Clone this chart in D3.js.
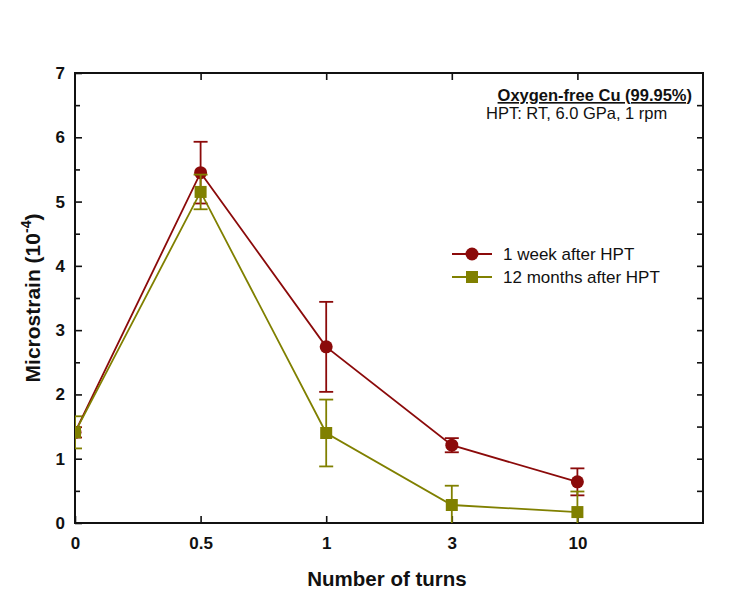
<!DOCTYPE html>
<html>
<head>
<meta charset="utf-8">
<script src="https://cdn.jsdelivr.net/npm/d3@7"></script>
<style>
  body { margin: 0; background: #fff; }
  svg { font-family: 'Liberation Sans', Arial, sans-serif; }
</style>
</head>
<body>
<div class="chart"></div>
<script>
'use strict';

// data
var turns = ['0', '0.5', '1', '3', '10'];
var weekValues = [1.41, 5.45, 2.74, 1.21, 0.64];
var weekErrors = [0.08, 0.48, 0.70, 0.11, 0.21];
var monthValues = [1.41, 5.15, 1.40, 0.28, 0.17];
var monthErrors = [0.25, 0.27, 0.52, 0.30, 0.32];
var yTicks = [0, 1, 2, 3, 4, 5, 6, 7];

var series = [
  {name: '1 week after HPT', values: weekValues, errors: weekErrors, color: '#8b0a0a', marker: 'circle'},
  {name: '12 months after HPT', values: monthValues, errors: monthErrors, color: '#808000', marker: 'square'}
];

var margin = {top: 73, right: 47, bottom: 69, left: 75},
  width = 750 - margin.left - margin.right,
  height = 592 - margin.top - margin.bottom;

var x = d3.scaleLinear().domain([0, 5]).range([0, width]);
var y = d3.scaleLinear().domain([0, 7]).range([height, 0]);

var svg = d3.select('.chart').append('svg')
  .attr('width', 750)
  .attr('height', 592);

var g = svg.append('g')
  .attr('transform', 'translate(' + margin.left + ',' + margin.top + ')');

g.append('clipPath').attr('id', 'plotClip')
  .append('rect').attr('width', width).attr('height', height);

// axes, ticks inward
var bottomAxis = d3.axisBottom(x)
  .tickValues(d3.range(turns.length))
  .tickFormat(function(i) { return turns[i]; })
  .tickSizeInner(-7).tickSizeOuter(0).tickPadding(14);

var leftAxis = d3.axisLeft(y)
  .tickValues(yTicks)
  .tickFormat(d3.format('d'))
  .tickSizeInner(-7).tickSizeOuter(0).tickPadding(10);

var leftMinor = d3.axisLeft(y)
  .tickValues(d3.range(0.5, 7, 1))
  .tickFormat('').tickSizeInner(-5).tickSizeOuter(0);

var rightAxis = d3.axisRight(y)
  .tickValues(d3.range(0.5, 7, 0.5))
  .tickFormat('').tickSizeInner(-6).tickSizeOuter(0);

var topAxis = d3.axisTop(x)
  .tickValues([1, 2, 3, 4])
  .tickFormat('').tickSizeInner(-7).tickSizeOuter(0);

g.append('g').attr('class', 'axis')
  .attr('transform', 'translate(0,' + height + ')')
  .call(bottomAxis);
g.append('g').attr('class', 'axis').call(leftAxis);
g.append('g').attr('class', 'axis').call(leftMinor);
g.append('g').attr('class', 'axis')
  .attr('transform', 'translate(' + width + ',0)')
  .call(rightAxis);
g.append('g').attr('class', 'axis').call(topAxis);

g.selectAll('.axis path').remove();
g.selectAll('.axis line').attr('stroke', '#111').attr('stroke-width', 1.6);
g.selectAll('.axis text')
  .attr('fill', '#111')
  .style('font-size', '17px')
  .style('font-weight', 'bold');

g.append('rect')
  .attr('width', width).attr('height', height)
  .attr('fill', 'none')
  .attr('stroke', '#111')
  .attr('stroke-width', 2);

// series
var plot = g.append('g').attr('clip-path', 'url(#plotClip)');

var line = d3.line()
  .x(function(d, i) { return x(i); })
  .y(function(d) { return y(d); });

function drawMarker(sel, s, cx, cy) {
  if (s.marker === 'circle') {
    sel.append('circle')
      .attr('cx', cx).attr('cy', cy).attr('r', 6.5)
      .attr('fill', s.color);
  } else {
    sel.append('rect')
      .attr('x', cx - 6).attr('y', cy - 6)
      .attr('width', 12).attr('height', 12)
      .attr('fill', s.color);
  }
}

series.forEach(function(s) {
  var sg = plot.append('g');
  sg.append('path')
    .datum(s.values)
    .attr('d', line)
    .attr('fill', 'none')
    .attr('stroke', s.color)
    .attr('stroke-width', 1.8);

  s.values.forEach(function(v, i) {
    var cx = x(i), e = s.errors[i];
    sg.append('line')
      .attr('x1', cx).attr('x2', cx)
      .attr('y1', y(v - e)).attr('y2', y(v + e))
      .attr('stroke', s.color).attr('stroke-width', 1.8);
    [v - e, v + e].forEach(function(ev) {
      sg.append('line')
        .attr('x1', cx - 7).attr('x2', cx + 7)
        .attr('y1', y(ev)).attr('y2', y(ev))
        .attr('stroke', s.color).attr('stroke-width', 1.8);
    });
    drawMarker(sg, s, cx, y(v));
  });
});

// legend
var legend = g.append('g')
  .attr('transform', 'translate(' + (452 - margin.left) + ',' + (254 - margin.top) + ')');

series.forEach(function(s, i) {
  var row = legend.append('g').attr('transform', 'translate(0,' + (i * 23) + ')');
  row.append('line')
    .attr('x1', 0).attr('x2', 40)
    .attr('stroke', s.color).attr('stroke-width', 1.8);
  drawMarker(row, s, 20, 0);
  row.append('text')
    .attr('x', 51).attr('y', 6)
    .attr('fill', '#111')
    .style('font-size', '17px')
    .text(s.name);
});

// annotation
svg.append('text')
  .attr('x', 692).attr('y', 101)
  .attr('text-anchor', 'end')
  .attr('fill', '#111')
  .style('font-size', '16.5px')
  .style('font-weight', 'bold')
  .style('text-decoration', 'underline')
  .text('Oxygen-free Cu (99.95%)');

svg.append('text')
  .attr('x', 486).attr('y', 119)
  .attr('fill', '#111')
  .style('font-size', '16.5px')
  .text('HPT: RT, 6.0 GPa, 1 rpm');

// axis titles
svg.append('text')
  .attr('x', 387)
  .attr('y', 586)
  .attr('text-anchor', 'middle')
  .attr('fill', '#111')
  .style('font-size', '20.5px')
  .style('font-weight', 'bold')
  .text('Number of turns');

var yTitle = svg.append('text')
  .attr('transform', 'translate(40,' + (margin.top + height / 2) + ') rotate(-90)')
  .attr('text-anchor', 'middle')
  .attr('fill', '#111')
  .style('font-size', '21px')
  .style('font-weight', 'bold');
yTitle.append('tspan').text('Microstrain (10');
yTitle.append('tspan').attr('dy', -9).style('font-size', '14px').text('-4');
yTitle.append('tspan').attr('dy', 9).text(')');
</script>
</body>
</html>
